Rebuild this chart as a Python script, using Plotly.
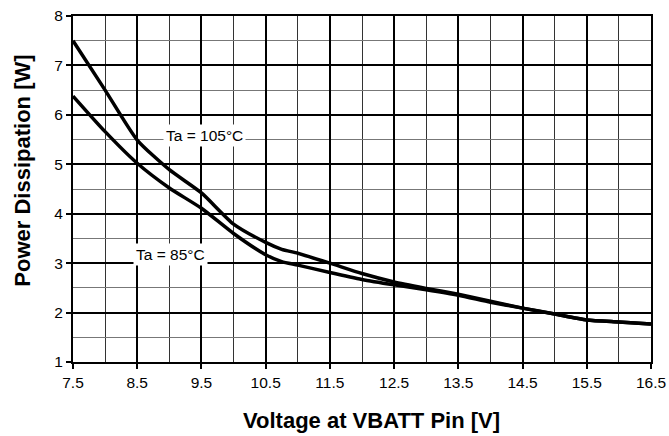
import plotly.graph_objects as go

voltage = [7.5, 8.0, 8.5, 9.0, 9.5, 10.0, 10.5, 10.75, 11.0, 11.5, 12.0, 12.5, 13.0, 13.5, 14.0, 14.5, 15.0, 15.5, 16.0, 16.5]
p_105 = [7.5, 6.5, 5.49, 4.89, 4.42, 3.79, 3.42, 3.28, 3.2, 3.0, 2.79, 2.62, 2.49, 2.37, 2.23, 2.09, 1.97, 1.85, 1.81, 1.77]
p_85 = [6.38, 5.66, 5.02, 4.52, 4.11, 3.6, 3.17, 3.03, 2.96, 2.81, 2.67, 2.56, 2.46, 2.35, 2.21, 2.09, 1.97, 1.85, 1.81, 1.77]

x_ticks = [7.5, 8.5, 9.5, 10.5, 11.5, 12.5, 13.5, 14.5, 15.5, 16.5]
y_ticks = [1, 2, 3, 4, 5, 6, 7, 8]

x_title = "Voltage at VBATT Pin [V]"
y_title = "Power Dissipation [W]"

fig = go.Figure()
for ys in (p_105, p_85):
    fig.add_trace(go.Scatter(x=voltage, y=ys, mode="lines",
                             line=dict(color="black", width=3.5, shape="spline", smoothing=0.6),
                             showlegend=False, hoverinfo="skip"))

fig.add_annotation(x=9.54, y=5.59, text="Ta = 105°C", showarrow=False,
                   bgcolor="white", font=dict(size=15.5, color="black"), borderpad=2)
fig.add_annotation(x=9.02, y=3.17, text="Ta = 85°C", showarrow=False,
                   bgcolor="white", font=dict(size=15.5, color="black"), borderpad=2)

# axis titles placed as paper annotations to match the reference's offsets
fig.add_annotation(xref="paper", yref="paper", x=0.5156, y=-0.1694,
                   text=f"<b>{x_title}</b>", showarrow=False,
                   xanchor="center", yanchor="middle", font=dict(size=22, color="black"))
fig.add_annotation(xref="paper", yref="paper", x=-0.088, y=0.5534,
                   text=f"<b>{y_title}</b>", showarrow=False, textangle=-90,
                   xanchor="center", yanchor="middle", font=dict(size=22, color="black"))

fig.update_layout(
    width=669, height=436,
    margin=dict(l=73.3, r=18.3, t=15.7, b=73.7),
    plot_bgcolor="white", paper_bgcolor="white",
    font=dict(family="Liberation Sans, Arial, sans-serif", color="black", size=15),
)
fig.update_xaxes(
    range=[7.5, 16.5], tickvals=x_ticks, ticktext=[str(v) for v in x_ticks],
    showgrid=True, gridcolor="black", gridwidth=2,
    minor=dict(dtick=0.5, tick0=7.5, showgrid=True, gridcolor="#333", gridwidth=1),
    ticks="outside", ticklen=5, tickcolor="black", tickwidth=2,
    showline=True, linecolor="black", linewidth=2, mirror=True,
    zeroline=False, automargin=False, ticklabeloverflow="allow",
    tickfont=dict(size=15.5),
)
fig.update_yaxes(
    range=[1, 8], tickvals=y_ticks,
    showgrid=True, gridcolor="black", gridwidth=2,
    minor=dict(dtick=0.5, tick0=1, showgrid=True, gridcolor="#777", gridwidth=1),
    ticks="outside", ticklen=5, tickcolor="black", tickwidth=2,
    showline=True, linecolor="black", linewidth=2, mirror=True,
    zeroline=False, automargin=False, ticklabeloverflow="allow",
    tickfont=dict(size=15.5),
)

fig.write_html("out.html", config={"displayModeBar": False},
               post_script="document.body.style.margin='0';")
